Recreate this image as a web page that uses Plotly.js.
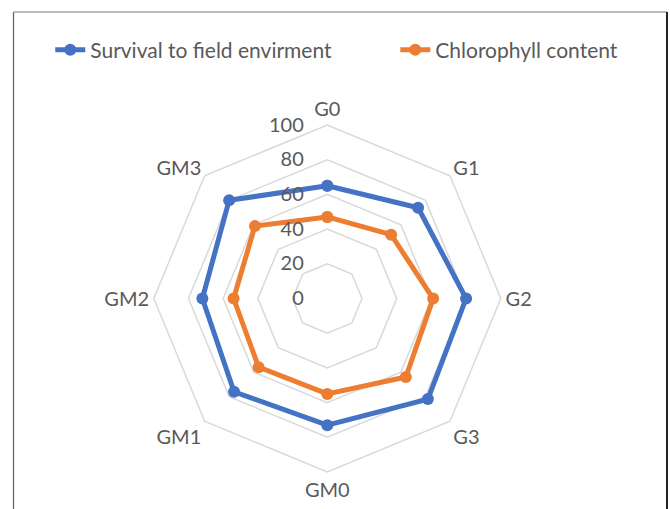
<!DOCTYPE html>
<html>
<head>
<meta charset="utf-8">
<script src="https://cdn.plot.ly/plotly-3.0.1.min.js"></script>
<style>html,body{margin:0;padding:0;background:#fff;}#chart{width:670px;height:509px;}</style>
</head>
<body>
<div id="chart"></div>
<script>
var categories = ["G0", "G1", "G2", "G3", "GM0", "GM1", "GM2", "GM3"];
var survival = [65, 74, 80, 82, 73, 76, 72, 80];
var chlorophyll = [47, 52, 61, 64, 55, 56, 54, 59];
var seriesNames = ["Survival to field envirment", "Chlorophyll content"];
var radialTicks = [0, 20, 40, 60, 80, 100];

function closed(a) { return a.concat([a[0]]); }

var W = 670, H = 509;
var cx = 327.3, cy = 298.5, R = 173.5;

var traces = [
  {
    type: "scatterpolar", mode: "lines+markers", name: seriesNames[0],
    r: closed(survival), theta: closed(categories), legend: "legend",
    line: {color: "#4472C4", width: 5},
    marker: {color: "#4472C4", size: 12}
  },
  {
    type: "scatterpolar", mode: "lines+markers", name: seriesNames[1],
    r: closed(chlorophyll), theta: closed(categories), legend: "legend2",
    line: {color: "#ED7D31", width: 5},
    marker: {color: "#ED7D31", size: 12}
  }
];

var legendFont = {size: 21, color: "#595959"};

var layout = {
  width: W, height: H,
  margin: {l: 0, r: 0, t: 0, b: 0},
  paper_bgcolor: "#ffffff",
  font: {family: "Lato, 'Noto Sans', sans-serif", color: "#595959", size: 20},
  showlegend: true,
  legend: {
    orientation: "h", x: 0.075, xanchor: "left", y: 1 - 50 / H, yanchor: "middle",
    font: legendFont
  },
  legend2: {
    orientation: "h", x: 0.59, xanchor: "left", y: 1 - 50 / H, yanchor: "middle",
    font: legendFont
  },
  polar: {
    domain: {x: [(cx - R) / W, (cx + R) / W], y: [(H - cy - R) / H, (H - cy + R) / H]},
    bgcolor: "rgba(0,0,0,0)",
    gridshape: "linear",
    angularaxis: {
      rotation: 90, direction: "clockwise",
      showgrid: false, showline: true, linecolor: "#d9d9d9", linewidth: 1.5,
      ticks: "", tickfont: {size: 20, color: "#595959"}
    },
    radialaxis: {
      range: [0, 100], tickvals: radialTicks, angle: 90, tickangle: 90,
      side: "counterclockwise",
      showline: false, ticks: "outside", ticklen: 16, tickcolor: "rgba(0,0,0,0)",
      gridcolor: "#d9d9d9", gridwidth: 1.5,
      tickfont: {size: 20, color: "#595959"}
    }
  },
  shapes: [
    {type: "line", xref: "paper", yref: "paper", x0: 13.5 / W, x1: 13.5 / W, y0: 0, y1: 1 - 12 / H, line: {color: "#5f5f5f", width: 1.2}},
    {type: "line", xref: "paper", yref: "paper", x0: 13.5 / W, x1: 667 / W, y0: 1 - 12 / H, y1: 1 - 12 / H, line: {color: "#7a7a7a", width: 1.2}},
    {type: "line", xref: "paper", yref: "paper", x0: 667 / W, x1: 667 / W, y0: 0, y1: 1 - 12 / H, line: {color: "#222222", width: 2}}
  ]
};

Plotly.newPlot("chart", traces, layout, {displayModeBar: false, staticPlot: true});
</script>
</body>
</html>
